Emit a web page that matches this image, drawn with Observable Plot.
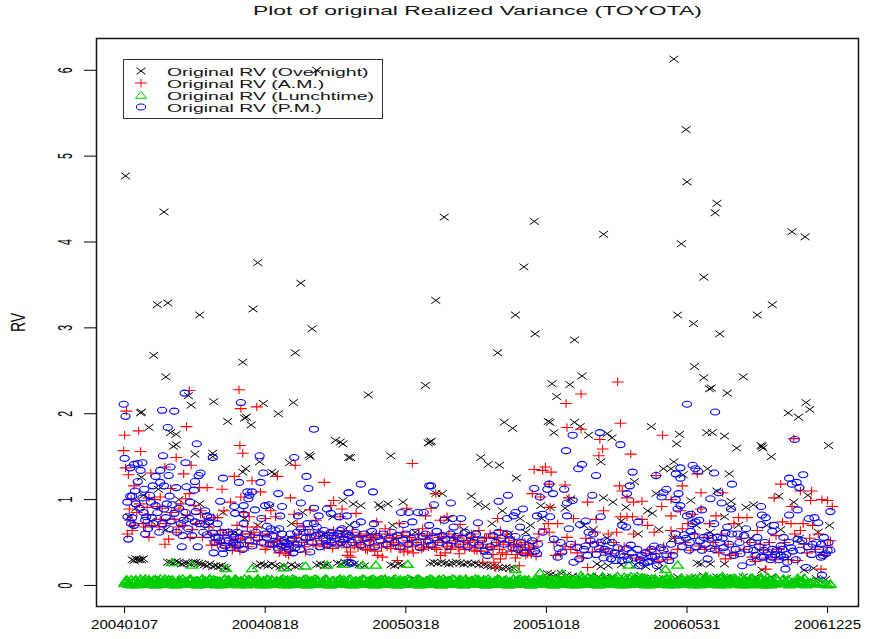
<!DOCTYPE html>
<html><head><meta charset="utf-8">
<script src="https://cdn.jsdelivr.net/npm/d3@7"></script>
<script src="https://cdn.jsdelivr.net/npm/@observablehq/plot@0.6"></script>
<style>
html,body{margin:0;padding:0;background:#fff;}
#wrap{position:relative;width:873px;height:639px;overflow:hidden;}
#title{position:absolute;left:253px;top:4px;font:12.5px/15px "Liberation Sans",sans-serif;transform-origin:0 50%;transform:scaleX(1.83);color:#111;white-space:nowrap;}
#legend{position:absolute;left:123px;top:59px;width:258px;height:58px;border:1.5px solid #333;background:#fff;}
#legend svg{position:absolute;left:0;top:0;}
#legend div{position:absolute;left:43px;font:10.5px/12px "Liberation Sans",sans-serif;transform-origin:0 50%;white-space:nowrap;color:#111;}
#chart{position:absolute;left:0;top:0;}
</style></head><body>
<div id="wrap">
<div id="legend"></div>
<div id="title">Plot of original Realized Variance (TOYOTA)</div>
<div id="chart"></div>
</div>
<script>
const tickDays=[0,150,300,450,600,750];
const tickDates=["20040107","20040818","20050318","20051018","20060531","20061225"];
const rvTicks=[0,1,2,3,4,5,6];
const legendLabels=["Original RV (Overnight)","Original RV (A.M.)","Original RV (Lunchtime)","Original RV (P.M.)"];

const overnight=[[1,4.77],[42,4.35],[35,3.27],[46,3.29],[31,2.68],[44,2.43],[80,3.15],[17,2.01],[18,2.02],[26,1.84],[137,3.22],[142,3.76],[126,2.6],[188,3.52],[200,2.99],[182,2.71],[180,2.13],[68,2.21],[71,2.1],[95,2.14],[110,1.91],[130,1.96],[128,1.95],[135,1.87],[148,2.12],[164,2],[49,1.78],[55,1.76],[55,1.64],[52,1.62],[75,1.53],[94,1.54],[94,1.5],[144,1.44],[176,1.43],[197,1.52],[198,1.5],[225,1.69],[230,1.67],[233,1.65],[239,1.49],[129,1.36],[126,1.32],[157,1.32],[160,1.3],[18,1.26],[205,6],
[260,2.22],[321,2.33],[324,1.66],[326,1.67],[327,1.68],[241,1.49],[284,1.51],[380,1.49],[388,1.41],[400,1.4],[418,1.25],[405,1.9],[414,1.83],[452,1.91],[454,1.9],[458,1.78],[456,2.35],[475,2.34],[461,2.2],[370,1.04],[332,1.07],[339,1.07],[377,.95],[385,.92],[297,.97],[271,.94],[281,.95],[273,.91],[244,.95],[252,.93],[233,.99],[403,.87],[422,.78],[433,.7],[444,.93],[454,.91],[476,1.01],
[341,4.29],[332,3.32],[437,4.24],[426,3.71],[417,3.15],[438,2.93],[398,2.71],[511,4.09],[480,2.86],[488,2.44],[586,6.13],[599,5.31],[600,4.7],[594,3.98],[590,3.15],[607,3.05],[608,2.55],[618,2.42],[630,4.34],[632,4.45],[618,3.59],[635,2.93],[624,2.29],[626,2.3],[643,2.24],[660,2.43],[675,3.15],[691,3.27],[712,4.12],[726,4.06],[727,2.13],[708,2.01],[719,1.96],[731,2.05],[751,1.63],[679,1.63],[680,1.62],[681,1.6],[690,1.5],[653,1.6],
[562,1.85],[592,1.76],[589,1.65],[621,1.78],[627,1.78],[640,1.74],[515,1.77],[520,1.72],[508,1.44],[586,1.44],[575,1.36],[583,1.36],[622,1.36],[645,1.3],[596,1.29],[544,1.21],[567,1.07],[632,1.1],[698,1.04],[729,1.05],[511,1.02],[521,.97],[535,.91],[558,.87],[563,.84],[604,.99],[647,.98],[647,.91],[663,.91],[671,.94],[714,.97],[480,1.9],[486,1.85],[495,1.75],
[5,.8],[12,.9],[20,1.05],[28,.75],[36,1.12],[44,.65],[58,1],[66,.8],[80,.95],[90,.7],[105,.85],[118,.62],[128,.78],[142,.7],[155,.92],[168,.55],[178,.72],[190,.85],[212,.6],[222,.8],[240,.7],[262,.6],[286,.7],[310,.62],[345,.78],[362,.65],[392,.72],[410,.6],[428,.62],[445,.78],[470,.9],[490,.7],[500,.65],[515,.55],[530,.75],[548,.6],[570,.65],[585,.55],[610,.7],[625,.62],[640,.8],[655,.7],[668,.55],[685,.7],[700,.65],[720,.55],[740,.62],[752,.7],
[8,.3],[10,.29],[12,.31],[14,.3],[16,.3],[18,.3],[20,.31],[46,.27],[49,.27],[52,.26],[55,.28],[58,.27],[61,.25],[64,.26],[67,.26],[70,.25],[73,.27],[76,.27],[79,.26],[82,.25],[85,.24],[88,.23],[91,.25],[94,.22],[97,.23],[100,.22],[103,.23],[106,.21],[109,.2],[141,.23],[145,.25],[149,.24],[153,.23],[157,.25],[161,.23],[166,.22],[170,.23],[174,.21],[178,.24],[182,.22],[186,.23],[205,.24],[209,.25],[213,.23],[216,.24],[227,.26],[231,.25],[235,.27],[239,.26],[245,.25],[250,.24],[256,.23],[284,.24],[288,.23],[292,.25],[296,.24],[326,.26],[330,.27],[334,.26],[338,.27],[342,.26],[346,.25],[350,.26],[354,.27],[358,.26],[362,.25],[366,.26],[370,.25],[374,.26],[378,.24],[383,.24],[387,.23],[391,.22],[395,.22],[399,.21],[403,.2],[407,.21],[411,.2],[415,.2],[451,.14],[455,.13],[460,.12],[466,.14],[472,.12],[478,.11],[504,.25],[508,.22],[516,.23],[530,.24],[545,.24],[556,.22],[570,.2],[611,.26],[615,.25],[625,.25],[640,.25],[680,.18],[725,.18],[735,.2],
[5,.05],[30,.04],[62,.06],[95,.03],[130,.05],[165,.04],[200,.06],[240,.04],[270,.08],[310,.07],[345,.08],[380,.07],[420,.06],[450,.09],[468,.08],[485,.1],[498,.11],[506,.1],[512,.09],[520,.1],[532,.09],[548,.1],[562,.09],[575,.08],[590,.1],[604,.09],[618,.11],[632,.1],[642,.09],[660,.1],[672,.09],[690,.1],[706,.08],[722,.09],[738,.08],[748,.07]];

const am=[[69,2.27],[122,2.28],[2,2.03],[124,2.06],[141,2.08],[66,1.85],[15,1.8],[0,1.75],[-1,1.57],[17,1.56],[123,1.63],[126,1.54],[55,1.49],[1,1.37],[4,1.29],[43,1.38],[71,1.4],[63,1.3],[28,1.31],[182,1.4],[163,1.27],[136,1.22],[117,1.27],[213,1.2],[10,1.16],[49,1.13],[88,1.14],[104,1.12],[80,1.14],[38,1.03],[26,1.02],[69,1.07],[145,1.09],[177,1.02],[223,.99],[65,1.01],[124,1.03],[113,.97],[24,.91],[5,.89],[58,.89],[60,.95],[74,.93],[81,.87],[35,.92],[198,.88],[220,.93],[232,.89],[106,.87],[127,.85],[156,.87],[161,.8],[181,.83],[6,.76],[38,.77],[53,.77],[10,.7],[8,.64],[37,.68],[22,.68],[81,.83],[95,.79],[133,.8],[150,.78],[26,.56],[47,.54],[43,.48],[93,.47],[99,.48],[118,.45],[115,.41],[172,.37],[175,.35],[166,.41],[238,.35],[216,.48],[205,.47],[193,.39],[191,.68],[184,.72],[230,.8],[204,.76],[141,.68],[131,.68],[120,.7],[134,.6],[124,.54],[102,.64],[90,.68],[99,.79],[83,.56],[58,.68],[70,.56],[152,.45],[163,.52],[181,.56],[223,.64],
[487,2.23],[471,2.12],[472,1.84],[487,1.82],[307,1.42],[449,1.38],[437,1.35],[446,1.34],[455,1.32],[453,1.18],[470,1.17],[435,1.07],[444,1.03],[474,1.02],[494,.97],[332,1.07],[301,.9],[327,.9],[321,.81],[247,.84],[454,.91],[398,.78],[344,.8],[269,.74],[337,.76],[293,.72],[358,.71],[378,.64],[479,.78],[462,.72],[453,.62],[401,.64],[408,.6],[472,.56],[234,.64],[238,.56],[252,.58],[263,.54],[278,.66],[286,.56],[302,.52],[318,.66],[334,.52],[351,.56],[369,.52],[391,.45],[415,.48],[422,.41],[430,.37],[241,.39],[241,.33],[275,.33],[291,.29],[270,.35],[298,.39],[337,.35],[357,.37],[382,.27],[394,.27],[396,.21],[401,.31],[421,.23],[440,.52],[481,.48],[494,.21],[465,.37],[460,.35],[373,.41],[319,.48],[266,.47],[307,.45],[252,.48],[259,.41],[284,.43],[344,.45],
[526,2.37],[529,1.89],[574,1.75],[540,1.53],[510,1.59],[506,1.51],[507,1.7],[714,1.71],[567,1.28],[611,1.3],[595,1.16],[528,1.16],[531,1.1],[700,1.18],[733,1.1],[721,1.1],[615,1.08],[638,1.08],[693,1.02],[536,1.02],[543,.97],[552,.98],[583,1],[744,1],[750,.99],[732,.99],[573,.92],[712,.92],[755,.92],[511,.87],[529,.8],[536,.8],[542,.8],[552,.77],[503,.77],[558,.7],[583,.81],[593,.87],[615,.89],[606,.83],[631,.81],[655,.79],[664,.79],[702,.74],[711,.72],[734,.7],[721,.64],[543,.6],[565,.62],[595,.66],[583,.64],[650,.72],[622,.56],[695,.58],[675,.64],[725,.48],[753,.52],[519,.37],[527,.41],[513,.39],[583,.37],[604,.41],[631,.43],[641,.31],[652,.37],[682,.41],[691,.39],[684,.19],[718,.29],[743,.19],[499,.39],[556,.37],[567,.37]];

const amCloud=[[102,.5],[105,.58],[108,.44],[111,.62],[114,.52],[117,.47],[120,.55],[123,.4],[126,.6],[129,.5],[132,.45],[135,.56],[138,.62],[141,.48],[144,.53],[147,.58],[150,.42],[153,.6],[156,.5],[159,.46],[162,.55],[165,.38],[168,.48],[171,.44],[174,.52],[177,.4],[180,.47],[183,.55],[186,.6],[189,.5],[192,.45],[195,.53],[198,.6],[201,.48],[204,.55],[207,.62],[210,.52],[213,.45],[216,.58],[219,.5],[222,.43],[225,.55],[228,.47],[231,.6],[234,.5],[237,.44],
[243,.62],[246,.5],[249,.44],[255,.52],[258,.6],[261,.46],[264,.56],[267,.4],[272,.6],[276,.5],[280,.45],[283,.6],[287,.48],[290,.55],[294,.42],[297,.62],[300,.46],[304,.56],[308,.38],[311,.5],[314,.6],[317,.42],[321,.54],[324,.45],[328,.6],[331,.44],[336,.56],[339,.5],[342,.38],[346,.6],[349,.46],[353,.52],[356,.44],[360,.58],[363,.42],[366,.5],[370,.6],[374,.46],[377,.52],[380,.4],[384,.55],[387,.44],[390,.6],[393,.36],[397,.5],[400,.42],[404,.48],[407,.36],[410,.5],[413,.4],[417,.32],[420,.45],[424,.38],[427,.5],[432,.42],[436,.46],[439,.34],[442,.6],
[3,.6],[7,1],[13,.85],[16,.95],[20,.72],[25,.82],[29,.7],[32,1],[40,.9],[44,.72],[50,.85],[55,.62],[62,.7],[67,.82],[72,.65],[77,.72],[85,.76],[92,.6],[96,.52],
[448,.66],[452,.72],[458,.5],[470,.45],[476,.42],[483,.38],[488,.32],[492,.55],[497,.5],[502,.62],[505,.5],[509,.42],[516,.6],[522,.5],[525,.62],[533,.45],[537,.36],[546,.32],[550,.3],[560,.42],[563,.3],[570,.28],[575,.45],[579,.3],[587,.55],[590,.42],[598,.5],[601,.72],[608,.6],[613,.46],[619,.42],[624,.72],[628,.5],[634,.38],[637,.6],[644,.48],[647,.35],[658,.55],[661,.42],[667,.5],[670,.33],[673,.28],[678,.48],[685,.32],[688,.5],[694,.3],[698,.42],[704,.5],[708,.3],[715,.6],[724,.72],[728,.38],[731,.55],[737,.42],[740,.6],[747,.35],[750,.46],
[245,.46],[250,.57],[257,.42],[262,.52],[268,.58],[274,.44],[279,.55],[285,.5],[292,.47],[296,.58],[302,.4],[306,.5],[313,.54],[319,.44],[323,.58],[329,.5],[333,.42],[338,.6],[344,.5],[348,.42],[352,.56],[358,.48],[362,.52],[368,.44],[372,.56],[376,.4],[382,.48],[386,.56],[392,.45],[395,.56],[399,.5],[403,.38],[406,.55],[412,.46],[416,.52],[419,.36],[423,.48],[428,.35],[431,.44],[434,.36]];

const pm=[[-1,2.11],[1,1.97],[40,2.04],[53,2.03],[46,1.84],[64,2.24],[124,2.13],[77,1.65],[0,1.48],[41,1.51],[65,1.43],[49,1.38],[17,1.34],[19,1.43],[10,1.41],[14,1.42],[6,1.37],[38,1.34],[33,1.27],[47,1.28],[81,1.31],[79,1.28],[75,1.21],[14,1.21],[38,1.2],[105,1.25],[122,1.2],[145,1.2],[148,1.31],[144,1.51],[181,1.49],[94,1.49],[202,1.82],[194,1.27],[196,1.13],[164,1.07],[239,1.08],[131,1.09],[136,1.09],[133,1.05],[132,1.01],[21,1.12],[30,1.16],[42,1.16],[55,1.14],[66,1.15],[74,1.11],[48,1.04],[8,1.04],[6,1.04],[3,.97],[12,.95],[19,1.02],[28,.97],[33,.93],[51,.94],[42,.89],[70,.97],[102,.98],[117,.92],[127,.93],[118,.84],[127,.83],[139,.88],[150,.93],[154,.94],[168,.92],[188,.96],[185,.81],[166,.81],[202,.9],[207,.81],[216,.89],[220,.84],[229,.8],[8,.79],[23,.8],[29,.79],[44,.79],[53,.84],[69,.78],[75,.74],[86,.87],[88,.81],[92,.79],[86,.71],[99,.72],[127,.72],[146,.78],[152,.69],[4,.54],[22,.6],[10,.7],[47,.66],[60,.72],[63,.76],[22,.76],[61,.45],[78,.45],[95,.38],[105,.37],[105,.43],[88,.59],[94,.61],[97,.56],[102,.52],[110,.62],[115,.6],[120,.62],[108,.52],[117,.56],[122,.47],[140,.62],[150,.6],[159,.58],[165,.66],[158,.48],[170,.52],[174,.48],[179,.54],[184,.48],[177,.6],[188,.66],[195,.72],[202,.72],[198,.39],[209,.6],[216,.47],[227,.48],[232,.66],[238,.56],[239,.27],[223,.58],[205,.68],[213,.64],[220,.62],[230,.64],[236,.6],[198,.56],[191,.62],[184,.62],[156,.66],[161,.64],[168,.6],[177,.52],[172,.45],[152,.56],
[239,1.08],[252,1.18],[265,1.09],[325,1.16],[327,1.16],[348,.96],[330,.94],[303,.85],[295,.85],[313,.85],[319,.85],[237,.81],[399,.98],[409,1.05],[425,.89],[417,.85],[437,1.13],[451,1.12],[457,1.07],[443,1.03],[453,1.18],[469,1.12],[471,1.57],[478,1.75],[488,1.41],[484,1.36],[472,.96],[478,.99],[472,.81],[446,.83],[454,.8],[440,.81],[359,.78],[350,.78],[341,.76],[377,.73],[266,.72],[252,.74],[246,.71],[307,.74],[298,.71],[325,.7],[351,.68],[408,.78],[415,.81],[422,.68],[492,.75],[474,.66],[486,.71],
[240,.58],[243,.5],[246,.62],[249,.53],[252,.47],[255,.6],[258,.55],[261,.5],[264,.63],[267,.45],[270,.57],[273,.52],[276,.6],[279,.48],[282,.55],[285,.62],[288,.5],[291,.58],[294,.45],[297,.53],[300,.6],[303,.48],[306,.55],[309,.62],[312,.5],[315,.44],[318,.57],[321,.6],[324,.52],[327,.47],[330,.55],[333,.63],[336,.5],[339,.58],[342,.54],[345,.46],[348,.6],[351,.52],[354,.57],[357,.48],[360,.55],[363,.62],[366,.45],[369,.58],[372,.5],[375,.6],[378,.47],[381,.53],[384,.4],[387,.35],[390,.45],[393,.58],[396,.5],[399,.62],[402,.55],[405,.48],[408,.6],[411,.53],[414,.44],[417,.57],[420,.42],[423,.5],[426,.38],[429,.55],[432,.45],[435,.52],[438,.4],[441,.48],[242,.26],[440,.37],[446,.62],[458,.54],[463,.43],[467,.39],[462,.33],[479,.27],[485,.31],[476,.48],[483,.44],[492,.46],[495,.62],[465,.5],
[600,2.11],[630,2.02],[507,1.78],[529,1.64],[715,1.7],[503,1.28],[542,1.32],[567,1.28],[606,1.4],[609,1.36],[593,1.37],[612,1.33],[629,1.31],[588,1.3],[593,1.25],[648,1.18],[539,1.16],[536,1.07],[578,1.12],[575,1.08],[573,1.03],[591,1.07],[588,1],[625,1.01],[634,1.08],[637,.96],[709,1.25],[717,1.2],[712,1.18],[720,1.14],[724,1.29],[753,.86],[679,.92],[647,.89],[593,.93],[590,.89],[604,.83],[600,.81],[616,.88],[613,.76],[609,.74],[606,.72],[548,.74],[531,.7],[535,.68],[508,.8],[499,1.05],[680,.82],[684,.79],[709,.82],[718,.88],[730,.78],[736,.79],[740,.73],[693,.7],[691,.63],[679,.71],[629,.72],[643,.68],[663,.66],[654,.6],[604,.63],[597,.59],[618,.56],[623,.58],[632,.56],[641,.61],[648,.6],[661,.58],[675,.56],[703,.56],[718,.54],[734,.48],[743,.48],[746,.56],[750,.41],[753,.41],[721,.41],[711,.44],[700,.46],[691,.42],[686,.39],[679,.33],[671,.41],[668,.27],[659,.23],[657,.37],[650,.35],[641,.39],[639,.44],[625,.43],[616,.41],[622,.31],[602,.41],[581,.29],[568,.23],[563,.33],[558,.27],[552,.35],[549,.23],[540,.47],[536,.43],[583,.48],[575,.41],[565,.46],[524,.29],[519,.31],[511,.32],[513,.52],[501,.48],[506,.43],[531,.29],[705,.19],[703,.33],[707,.27],[700,.35],[682,.41],[727,.21],[744,.12],[743,.33],[748,.37],[696,.41],[691,.33],[682,.33]];

const pmCloud=[[3,.8],[7,.72],[11,1.1],[16,.9],[20,.85],[25,.66],[27,1.05],[31,.72],[35,.85],[37,.62],[40,.72],[45,.95],[50,.75],[56,.62],[58,.9],[62,.58],[65,.85],[68,.66],[72,.58],[76,.86],[80,.72],[84,.62],[90,.74],[96,.5],[100,.56],[104,.62],[107,.46],[111,.52],[113,.44],[116,.5],[119,.47],[123,.55],[126,.42],[129,.6],[133,.52],[136,.46],[142,.55],[146,.5],[155,.48],[162,.5],[164,.42],[167,.46],[171,.5],[175,.42],[180,.38],[182,.44],[187,.42],[190,.5],[193,.55],[197,.62],[200,.5],[204,.58],[208,.45],[212,.55],[215,.52],[218,.58],[221,.5],[225,.55],[228,.6],[231,.5],[234,.54],[237,.48],
[490,.42],[494,.35],[497,.52],[500,.6],[503,.36],[508,.5],[512,.42],[516,.4],[520,.5],[523,.38],[526,.44],[529,.36],[533,.34],[537,.3],[541,.38],[544,.32],[547,.42],[550,.3],[554,.26],[556,.38],[560,.28],[562,.42],[566,.34],[570,.3],[572,.44],[578,.36],[585,.35],[588,.6],[592,.52],[595,.45],[599,.55],[603,.5],[607,.58],[610,.45],[614,.52],[620,.48],[627,.55],[630,.42],[635,.5],[638,.55],[645,.48],[652,.42],[656,.5],[665,.42],[669,.5],[673,.35],[677,.45],[683,.5],[689,.3],[694,.36],[698,.3],[702,.42],[706,.36],[709,.5],[713,.4],[716,.3],[723,.52],[729,.45],[733,.36],[738,.5],[741,.42],[745,.35],[751,.5]];

const lunchBandA=[.03,.06,.02,.05,.07,.03,.04,.06,.02,.05,.03,.07,.04,.02,.06,.05,.03,.07,.02,.04,.06,.03,.05,.07,.02,.04,.06,.03,.05,.02,.07,.04,.03,.06,.05,.02,.04,.07,.03,.05,.06,.02,.04,.03,.07,.05,.02,.06,.04,.03,.05,.07,.02,.03,.06,.04,.05,.02,.07,.03,.04,.06,.05,.02,.03,.07,.04,.06,.02,.05,.03,.04,.07,.02,.06,.03,.05,.04,.07,.02,.06,.03,.05,.04,.02,.07,.03,.06,.05,.04,.02,.07,.03,.05,.06,.02,.04,.03,.07,.05,.02,.06,.04,.03,.05,.07,.02,.04,.06,.03,.05,.02,.07,.04,.03,.06,.05,.02,.04,.07,.03,.06,.02,.05,.04,.03,.07,.02,.06,.04,.05,.03,.02,.07,.04,.06,.03,.05,.02,.04,.07,.03,.06,.05,.02,.04,.03,.07,.05,.06,.02,.04,.03,.07,.02,.05,.06,.03,.04,.02,.07,.05,.03,.06,.04,.02,.05,.07,.03,.04,.06,.02,.05,.03,.07,.04,.02,.06,.03,.05,.04,.07,.02,.06,.03,.05,.04,.02,.07,.06,.03,.05,.04,.08,.02,.06,.03,.05,.07,.02,.04,.06,.03,.08,.05,.02,.04,.07,.03,.06,.05,.02,.08,.04,.03,.06,.05,.07,.02,.04,.06,.03,.05,.08,.02,.04,.07,.03,.06,.05,.02,.04,.08,.03,.06,.05,.07,.02,.04,.03,.06,.05,.02,.04,.03,.05,.02,.04,.03,.02,.01,.02];
const lunchBandB=[.05,.02,.07,.04,.01,.06,.03,.08,.02,.04,.07,.01,.05,.03,.08,.02,.06,.04,.01,.07,.03,.05,.02,.08,.04,.06,.01,.07,.03,.05,.08,.02,.06,.04,.01,.07,.03,.05,.02,.08,.04,.06,.03,.01,.07,.02,.05,.08,.03,.06,.01,.04,.07,.02,.05,.03,.08,.06,.01,.04,.07,.02,.05,.03,.08,.01,.06,.04,.07,.02,.05,.08,.03,.01,.06,.04,.07,.02,.05,.03,.08,.01,.06,.04,.02,.07,.05,.03,.08,.01,.06,.04,.07,.02,.03,.05,.08,.01,.04,.06,.02,.07,.03,.05,.08,.01,.04,.06,.02,.07,.03,.05,.01,.08,.04,.06,.02,.07,.05,.03,.01,.08,.04,.06,.02,.07,.03,.05,.01,.08,.04,.02,.06,.07,.03,.05,.01,.04,.08,.02,.06,.03,.07,.05,.01,.04,.08,.02,.06,.03,.07,.05,.01,.04,.08,.02,.06,.03,.07,.01,.05,.04,.08,.02,.06,.03,.07,.05,.01,.04,.08,.02,.06,.03,.07,.05,.01,.04,.08,.02,.06,.03,.07,.05,.09,.01,.04,.08,.02,.06,.03,.07,.05,.01,.09,.04,.02,.06,.08,.03,.07,.05,.01,.04,.09,.02,.06,.03,.08,.05,.07,.01,.04,.02,.09,.06,.03,.08,.05,.01,.07,.04,.02,.09,.06,.03,.08,.05,.01,.07,.04,.02,.06,.03,.08,.05,.01,.04,.02,.06,.03,.05,.01,.03];
const lunchBandC=[.07,.04,.01,.06,.03,.08,.05,.02,.07,.03,.01,.06,.08,.04,.02,.07,.05,.01,.03,.06,.08,.04,.02,.07,.05,.01,.03,.08,.06,.04,.02,.07,.01,.05,.03,.08,.06,.02,.04,.07,.01,.05,.08,.03,.06,.02,.04,.07,.01,.05,.08,.03,.06,.02,.04,.07,.01,.05,.03,.08,.06,.02,.04,.07,.01,.05,.03,.08,.06,.02,.04,.07,.01,.05,.03,.06,.08,.02,.04,.07,.01,.05,.03,.06,.08,.02,.04,.07,.01,.05,.03,.06,.08,.02,.04,.07,.01,.05,.03,.06,.08,.02,.04,.07,.01,.05,.03,.06,.08,.02,.04,.07,.01,.05,.03,.06,.08,.02,.04,.07,.01,.05,.03,.06,.08,.02,.04,.07,.01,.05,.03,.06,.08,.02,.04,.07,.01,.05,.03,.06,.08,.02,.04,.07,.01,.05,.03,.06,.08,.02,.04,.07,.01,.05,.03,.06,.09,.02,.04,.07,.01,.05,.03,.06,.09,.02,.04,.07,.01,.05,.08,.03,.06,.02,.09,.04,.07,.01,.05,.08,.03,.06,.02,.09,.04,.07,.01,.05,.08,.03,.06,.02,.09,.04,.07,.01,.05,.08,.03,.06,.02,.09,.04,.07,.01,.05,.08,.03,.06,.02,.09,.04,.07,.01,.05,.08,.03,.06,.02,.04,.07,.01,.05,.03,.02,.04,.01,.03,.02,.01];
const lunchPeaks=[[51,.27],[72,.24],[108,.2],[136,.2],[170,.21],[193,.23],[216,.24],[234,.25],[254,.24],[268,.24],[302,.25],[417,.19],[443,.15],[467,.14],[487,.12],[538,.24],[510,.11],[526,.11],[540,.11],[547,.11],[577,.19],[590,.24],[620,.11],[638,.11],[659,.1],[679,.1],[686,.1],[718,.09],[725,.09],[500,.1],[518,.09],[533,.1],[555,.09],[650,.09],[668,.09],[695,.09],[753,.02]];

const lunch=[...lunchBandA.map((v,i)=>[i*3,v]),...lunchBandB.map((v,i)=>[i*3+1,v]),...lunchBandC.map((v,i)=>[i*3+2,v]),...lunchPeaks];

const k=.5523;
const symCross={draw(c){c.moveTo(-4.5,-3.3);c.lineTo(4.5,3.3);c.moveTo(-4.5,3.3);c.lineTo(4.5,-3.3);}};
const symPlus={draw(c){c.moveTo(-6,0);c.lineTo(6,0);c.moveTo(0,-4.2);c.lineTo(0,4.2);}};
const symTri={draw(c){c.moveTo(-5.5,3.3);c.lineTo(5.5,3.3);c.lineTo(0,-3.7);c.closePath();}};
const symEll={draw(c){const a=4.6,b=3;c.moveTo(a,0);c.bezierCurveTo(a,k*b,k*a,b,0,b);c.bezierCurveTo(-k*a,b,-a,k*b,-a,0);c.bezierCurveTo(-a,-k*b,-k*a,-b,0,-b);c.bezierCurveTo(k*a,-b,a,-k*b,a,0);c.closePath();}};

const dots=(data,symbol,stroke,strokeWidth)=>Plot.dot(data,{x:d=>d[0],y:d=>d[1],symbol,stroke,fill:"none",strokeWidth});

const chart=Plot.plot({
  width:873,height:639,
  marginLeft:96,marginRight:15,marginTop:38,marginBottom:33,
  style:{background:"transparent",color:"#000",overflow:"visible"},
  x:{domain:[-30,783]},
  y:{domain:[-0.245,6.37]},
  marks:[
    Plot.frame({stroke:"#111",strokeWidth:1.5}),
    dots(overnight,symCross,"#000",1),
    dots([...am,...amCloud],symPlus,"#f00",1.1),
    dots(lunch,symTri,"#00cd00",1.4),
    dots([...pm,...pmCloud],symEll,"#00f",1.1),
    Plot.axisX({ticks:tickDays,tickSize:7,tickPadding:6,tickFormat:d=>tickDates[tickDays.indexOf(d)],fontSize:13,fontFamily:"Liberation Sans",label:null,stroke:"#000"}),
    Plot.axisY({ticks:rvTicks,tickSize:12,tickPadding:13,tickRotate:-90,tickFormat:d=>String(d),fontSize:13,fontFamily:"Liberation Sans",label:null,stroke:"#000"}),
    Plot.text(["RV"],{frameAnchor:"left",dx:-78,rotate:-90,textAnchor:"middle",fontSize:14,fontFamily:"Liberation Sans",fill:"#000"})
  ]
});
document.getElementById("chart").appendChild(chart);

// the reference is stretched sideways: its text is wider than tall, also when rotated
d3.select(chart).selectAll('g[aria-label="x-axis tick label"] text').each(function(){this.setAttribute("transform",(this.getAttribute("transform")||"")+" scale(1.16,1)");});
d3.select(chart).selectAll('g[aria-label="y-axis tick label"] text').each(function(){this.setAttribute("transform",(this.getAttribute("transform")||"")+" scale(0.82,1.6)");});
d3.select(chart).selectAll('text').filter(function(){return this.textContent==="RV";}).each(function(){this.setAttribute("transform",(this.getAttribute("transform")||"")+" scale(1,1.5)");});

const glyphs=[
 '<path d="M-4.5,-3.3L4.5,3.3M-4.5,3.3L4.5,-3.3" stroke="#000" fill="none"/>',
 '<path d="M-6,0L6,0M0,-4.2L0,4.2" stroke="#f00" fill="none"/>',
 '<path d="M-5.5,3.3L5.5,3.3L0,-3.7Z" stroke="#00cd00" fill="none"/>',
 '<ellipse rx="4.6" ry="3" stroke="#00f" fill="none"/>'];
const legend=document.getElementById("legend");
legend.innerHTML='<svg width="40" height="58">'+glyphs.map((g,i)=>`<g transform="translate(17,${11+i*12})">${g}</g>`).join("")+'</svg>'
 +legendLabels.map((t,i)=>`<div style="top:${6+i*12}px;transform:scaleX(1.85)">${t}</div>`).join("");
</script>
</body></html>
